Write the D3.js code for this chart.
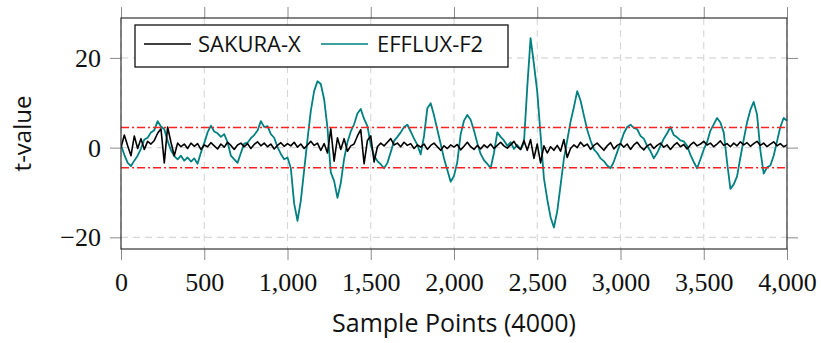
<!DOCTYPE html>
<html>
<head>
<meta charset="utf-8">
<script src="https://cdn.jsdelivr.net/npm/d3@7"></script>
<style>
  html, body { margin: 0; padding: 0; background: #fff; }
  svg { display: block; }
</style>
</head>
<body>
<div id="chart"></div>
<script>
// Axis ticks
const xTicks = [0, 500, 1000, 1500, 2000, 2500, 3000, 3500, 4000];
const yTicks = [-20, 0, 20];
const thresholds = [4.5, -4.5];

// Series names
const seriesNames = ['SAKURA-X', 'EFFLUX-F2'];

// Values, one every 20 sample points (0..4000)
const sakuraValues = [
  0.0, 2.8, 0.4, -1.8, 2.6, -0.2, 2.0, -0.4, 1.4, 0.8,
  1.6, 3.2, 4.2, -3.4, 4.6, 1.2, -1.8, 1.0, 0.2, 0.8,
  -0.2, 1.0, 0.3, 0.9, -0.4, 0.6, 0.2, 1.1, 0.4, -0.3,
  0.8, 0.1, 1.2, 0.5, -0.4, 0.6, 1.0, 0.2, 0.9, -0.2,
  0.7, 1.3, 0.4, 1.0, 0.2, 0.8, -0.3, 0.5, 1.1, 0.3,
  0.9, 0.4, 1.2, 0.1, 0.8, -0.2, 0.6, 1.4, 0.5, 1.0,
  -0.6, 0.9, -1.2, 4.2, -3.0, 2.2, -0.4, 2.0, -0.8, 0.4,
  0.8, 2.6, 4.0, -3.6, 1.6, 2.6, -3.2, 0.2, 1.0, 0.4,
  1.2, 2.0, 0.6, 1.0, 0.2, 1.2, 0.5, 0.9, -0.2, 0.6,
  0.1, 0.8, -0.4, 0.5, 1.0, 0.2, -0.6, 0.4, -0.2, 0.6,
  0.1, 0.7, -0.5, 0.3, 1.2, 0.2, -0.4, 0.5, -0.3, 0.6,
  0.0, 0.8, -0.2, 0.5, 1.2, 0.4, -0.1, 0.6, 1.4, 0.2,
  -0.4, 1.6, -0.6, 1.8, -2.4, 0.8, -3.4, 0.4, -1.2, 0.2,
  -0.6, 0.5, -0.8, 1.8, -2.2, -0.2, 0.6, 0.0, 1.2, 0.3,
  0.8, -0.4, 0.5, 1.0, 0.2, -0.6, 0.4, 1.1, -0.3, 0.5,
  0.9, 0.1, 0.8, -0.4, 0.6, 1.2, 0.2, -0.5, 0.4, 0.8,
  -0.2, 0.5, 1.0, 0.1, 0.6, -0.4, 0.5, 1.1, 0.2, 0.7,
  -0.3, 0.6, 1.2, 0.4, 0.8, 1.4, 0.6, 1.0, 0.2, 0.8,
  1.5, 0.5, 0.9, 0.2, 1.0, 0.4, 1.3, 0.6, 1.1, 0.3,
  0.9, 1.4, 0.5, 1.0, 0.2, 0.8, 1.3, 0.4, 0.9, 0.2,
  0.6
];

const effluxValues = [
  0.5, -1.6, -3.4, -4.1, -2.9, -1.8, -0.2, 1.8, 2.2, 3.4,
  3.9, 5.9, 4.7, 4.1, 1.5, -0.6, -1.9, -2.6, -1.8, -2.9,
  -2.2, -3.1, -2.4, -3.6, -1.1, 1.0, 3.4, 4.9, 3.6, 3.2,
  2.4, 3.0, 1.2, -1.8, -2.6, -3.4, -1.2, 0.9, 1.1, 2.1,
  2.8, 3.8, 5.9, 4.6, 4.8, 3.0, 2.2, 0.1, -1.4, -2.6,
  -2.2, -4.6, -12.5, -16.3, -11.8, -5.0, 1.8, 8.2, 12.6, 14.8,
  14.2, 10.8, 4.4, -5.5, -7.4, -11.2, -7.9, -2.5, 1.2, 3.6,
  5.2, 7.6, 8.6, 6.4, 4.8, 0.6, -1.8, -3.0, -3.7, -4.6,
  -3.4, -1.0, 1.5, 2.4, 3.4, 4.6, 5.1, 3.6, 2.0, 0.6,
  -1.5, 2.6, 8.8, 9.9, 7.2, 4.0, 0.8, -2.4, -5.0, -7.6,
  -6.3, -3.2, 3.0, 6.0, 7.3, 6.2, 3.8, 1.0, -1.4, -2.8,
  -3.6, -4.6, -1.2, 3.4, 2.4, 1.6, 0.4, 1.2, -0.3, 0.6,
  -0.4, 1.0, 13.5, 24.4, 18.6, 12.5, 2.8, -6.8, -11.5, -15.5,
  -17.8, -14.2, -8.4, -2.5, 1.6, 5.8, 9.0, 12.6, 10.5, 7.2,
  4.0, 1.6, -0.4, -1.2, -2.4, -3.0, -4.0, -4.6, -3.1, -1.0,
  1.0, 3.2, 4.6, 5.1, 4.4, 4.1, 2.6, 2.0, 0.4, -0.8,
  -2.4, -1.2, 0.4, 2.0, 3.2, 4.6, 2.8, 2.3, 1.6, 1.4,
  0.4, -1.6, -3.2, -4.6, -2.6, -0.4, 1.2, 3.8, 5.2, 6.6,
  5.6, 3.4, -3.2, -9.2, -8.2, -6.4, -2.2, 1.8, 5.6, 8.4,
  10.2, 7.4, -0.6, -5.8, -4.4, -4.0, -1.8, 1.4, 4.6, 6.6,
  6.0
];

// Dimensions
const width = 821;
const height = 343;
const margin = { top: 18, right: 34, bottom: 94, left: 121 };
const innerWidth = width - margin.left - margin.right;
const innerHeight = height - margin.top - margin.bottom;

const svg = d3.select('#chart')
  .append('svg')
  .attr('width', width)
  .attr('height', height);

const g = svg.append('g')
  .attr('transform', `translate(${margin.left},${margin.top})`);

// Scales
const xScale = d3.scaleLinear().domain([0, 4000]).range([0, innerWidth]);
const yScale = d3.scaleLinear().domain([-22.6, 28.9]).range([innerHeight, 0]);

// Grid
const gridColor = '#d6d6d6';
g.append('g')
  .selectAll('line')
  .data(xTicks)
  .join('line')
  .attr('x1', d => xScale(d)).attr('x2', d => xScale(d))
  .attr('y1', 0).attr('y2', innerHeight)
  .attr('stroke', gridColor)
  .attr('stroke-width', 1.1)
  .attr('stroke-dasharray', '7,5');

g.append('g')
  .selectAll('line')
  .data(yTicks)
  .join('line')
  .attr('x1', 0).attr('x2', innerWidth)
  .attr('y1', d => yScale(d)).attr('y2', d => yScale(d))
  .attr('stroke', gridColor)
  .attr('stroke-width', 1.1)
  .attr('stroke-dasharray', '7,5');

// Clip for the series
g.append('clipPath').attr('id', 'plot-clip')
  .append('rect')
  .attr('width', innerWidth)
  .attr('height', innerHeight);

const line = d3.line()
  .x((d, i, arr) => xScale(i * 4000 / (arr.length - 1)))
  .y(d => yScale(d));

const series = g.append('g').attr('clip-path', 'url(#plot-clip)');

series.append('path')
  .datum(effluxValues)
  .attr('d', line)
  .attr('fill', 'none')
  .attr('stroke', '#008080')
  .attr('stroke-width', 1.8)
  .attr('stroke-linejoin', 'round');

series.append('path')
  .datum(sakuraValues)
  .attr('d', line)
  .attr('fill', 'none')
  .attr('stroke', '#000')
  .attr('stroke-width', 1.6)
  .attr('stroke-linejoin', 'round');

// Threshold lines
series.selectAll('.threshold')
  .data(thresholds)
  .join('line')
  .attr('class', 'threshold')
  .attr('x1', 0).attr('x2', innerWidth)
  .attr('y1', d => yScale(d)).attr('y2', d => yScale(d))
  .attr('stroke', '#ff2020')
  .attr('stroke-width', 1.5)
  .attr('stroke-dasharray', '8,3,2,3');

// Axes: ticks outside on all four sides
const tickLen = 11;
const fmt = d3.format(',');
const tickColor = '#8a8a8a';
const serifFont = '"Liberation Serif", "DejaVu Serif", serif';

const xBottom = g.append('g')
  .attr('transform', `translate(0,${innerHeight})`)
  .call(d3.axisBottom(xScale).tickValues(xTicks).tickSize(tickLen).tickFormat(fmt));
const xTop = g.append('g')
  .call(d3.axisTop(xScale).tickValues(xTicks).tickSize(tickLen).tickFormat(''));
const yLeft = g.append('g')
  .call(d3.axisLeft(yScale).tickValues(yTicks).tickSize(tickLen)
    .tickFormat(d => d < 0 ? '\u2212' + Math.abs(d) : d));
const yRight = g.append('g')
  .attr('transform', `translate(${innerWidth},0)`)
  .call(d3.axisRight(yScale).tickValues(yTicks).tickSize(tickLen).tickFormat(''));

[xBottom, xTop, yLeft, yRight].forEach(ax => {
  ax.select('.domain').remove();
  ax.selectAll('.tick line').attr('stroke', tickColor).attr('stroke-width', 1);
});

xBottom.selectAll('.tick text')
  .attr('y', 42)
  .attr('dy', 0)
  .attr('font-family', serifFont)
  .attr('font-size', 26)
  .attr('fill', '#111');

yLeft.selectAll('.tick text')
  .attr('x', -20)
  .attr('dy', '0.33em')
  .attr('font-family', serifFont)
  .attr('font-size', 26)
  .attr('fill', '#111');

// Frame
g.append('rect')
  .attr('width', innerWidth)
  .attr('height', innerHeight)
  .attr('fill', 'none')
  .attr('stroke', '#333')
  .attr('stroke-width', 1.2);

// Axis labels
const sansFont = '"Open Sans", "DejaVu Sans", sans-serif';
svg.append('text')
  .attr('x', margin.left + innerWidth / 2)
  .attr('y', 332)
  .attr('text-anchor', 'middle')
  .attr('font-family', sansFont)
  .attr('font-size', 25)
  .attr('fill', '#111')
  .text('Sample Points (4000)');

svg.append('text')
  .attr('transform', `translate(31,${margin.top + innerHeight / 2}) rotate(-90)`)
  .attr('text-anchor', 'middle')
  .attr('font-family', sansFont)
  .attr('font-size', 24)
  .attr('fill', '#111')
  .text('t-value');

// Legend
const legend = svg.append('g').attr('transform', 'translate(135,25)');
legend.append('rect')
  .attr('width', 373)
  .attr('height', 42)
  .attr('fill', '#fff')
  .attr('stroke', '#111')
  .attr('stroke-width', 1.3);

const legendItems = [
  { name: seriesNames[0], color: '#000', x: 9, textX: 63 },
  { name: seriesNames[1], color: '#008080', x: 186, textX: 242 }
];
legendItems.forEach(item => {
  legend.append('line')
    .attr('x1', item.x).attr('x2', item.x + 47)
    .attr('y1', 19).attr('y2', 19)
    .attr('stroke', item.color)
    .attr('stroke-width', 1.4);
  legend.append('text')
    .attr('x', item.textX)
    .attr('y', 27)
    .attr('font-family', sansFont)
    .attr('font-size', 22)
    .attr('fill', '#111')
    .text(item.name);
});
</script>
</body>
</html>
